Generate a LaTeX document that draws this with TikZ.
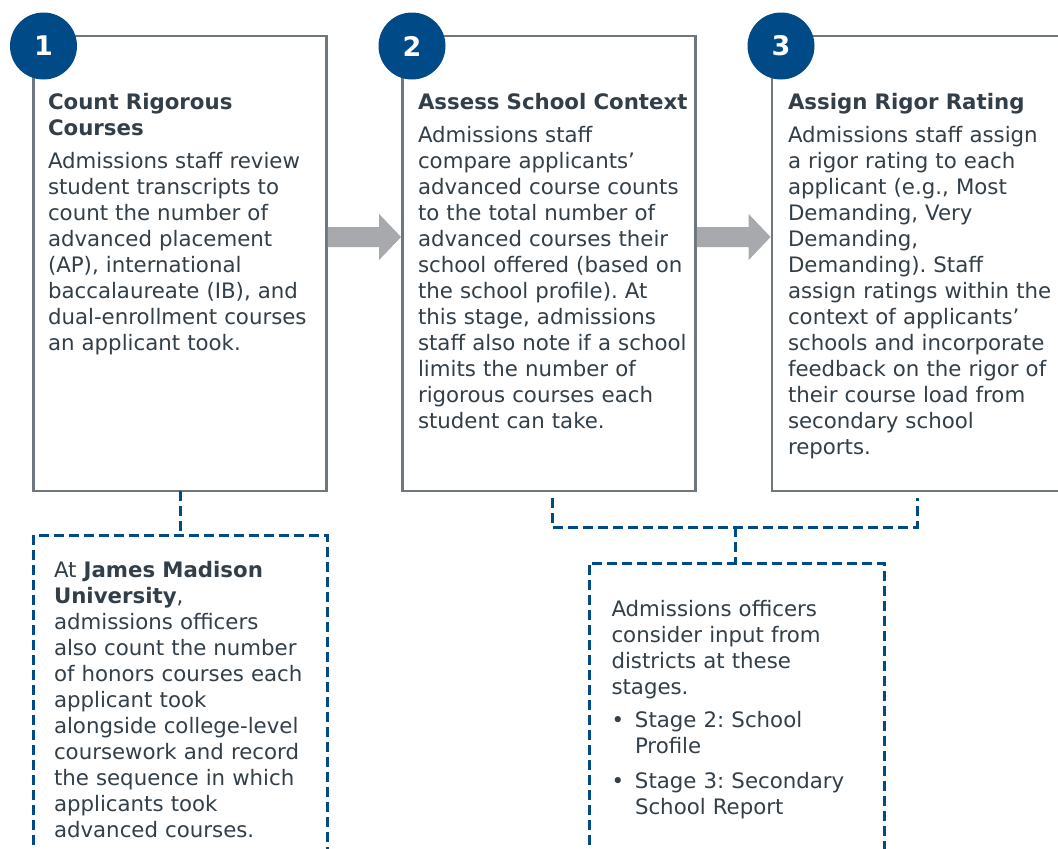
\documentclass[tikz,border=0pt]{standalone}
\usepackage{fontspec}
\setmainfont{DejaVu Sans}
\usetikzlibrary{calc}
\definecolor{txt}{HTML}{333F48}
\definecolor{framegray}{HTML}{6E7780}
\definecolor{navy}{HTML}{004B87}
\definecolor{arrowgray}{HTML}{A7A9AC}
\frenchspacing
\tikzset{
  stagebox/.style={draw=framegray, line width=2.8pt, fill=white, rectangle, inner sep=0pt, outer sep=0pt, anchor=north west},
  numcirc/.style={circle, fill=navy, minimum size=67pt, inner sep=0pt, text=white, font=\fontsize{27}{27}\selectfont\bfseries},
  titletext/.style={anchor=base west, inner sep=0pt, outer sep=0pt, text=txt, text width=285pt, align=left, font=\fontsize{21.3}{26}\selectfont\bfseries\frenchspacing},
  bodytext/.style={anchor=base west, inner sep=0pt, outer sep=0pt, text=txt, text width=290pt, align=left, font=\fontsize{21.3}{26}\selectfont\frenchspacing},
  noteline/.style={draw=navy, line width=3pt, dash pattern=on 10pt off 5pt},
  blockarrow/.style={fill=arrowgray, draw=none},
}
\newcommand{\bulletitem}[2]{\makebox[23.5pt][l]{•}#1\\\hspace*{23.5pt}#2}
\begin{document}
\begin{tikzpicture}[x=1pt,y=-1pt]
\useasboundingbox (0,0) rectangle (1058,849);
\clip (0,0) rectangle (1058,849);

% stage boxes
\node[stagebox, minimum width=293pt, minimum height=455pt] (s1) at (33.5,36) {};
\node[stagebox, minimum width=293pt, minimum height=455pt] (s2) at (402.5,36) {};
\node[stagebox, minimum width=293pt, minimum height=455pt] (s3) at (772,36) {};

% number circles
\node[numcirc] (c1) at (43.5,46) {1};
\node[numcirc] (c2) at (412,46) {2};
\node[numcirc] (c3) at (781,46) {3};

% block arrows
\coordinate (a1s) at ($(s1.north east)+(1.4,201)$);
\coordinate (a1e) at ($(s2.north west)+(-1.4,201)$);
\coordinate (a2s) at ($(s2.north east)+(1.4,201)$);
\coordinate (a2e) at ($(s3.north west)+(-1.4,201)$);
\fill[blockarrow] ($(a1s)+(0,-10)$) -- ($(a1e)+(-22,-10)$) -- ($(a1e)+(-22,-23)$) -- (a1e)
  -- ($(a1e)+(-22,23)$) -- ($(a1e)+(-22,10)$) -- ($(a1s)+(0,10)$) -- cycle;
\fill[blockarrow] ($(a2s)+(0,-10)$) -- ($(a2e)+(-22,-10)$) -- ($(a2e)+(-22,-23)$) -- (a2e)
  -- ($(a2e)+(-22,23)$) -- ($(a2e)+(-22,10)$) -- ($(a2s)+(0,10)$) -- cycle;

% titles and bodies
\node[titletext] (t1) at (48,109) {Count Rigorous\\Courses};
\node[bodytext] (b1) at (48,168) {Admissions staff review\\student transcripts to\\count the number of\\advanced placement\\(AP), international\\baccalaureate (IB), and\\dual-enrollment courses\\an applicant took.};

\node[titletext] (t2) at (418,109) {Assess School Context};
\node[bodytext] (b2) at (418,142) {Admissions staff\\compare applicants’\\advanced course counts\\to the total number of\\advanced courses their\\school offered (based on\\the school profile). At\\this stage, admissions\\staff also note if a school\\limits the number of\\rigorous courses each\\student can take.};

\node[titletext] (t3) at (788,109) {Assign Rigor Rating};
\node[bodytext] (b3) at (788,142) {Admissions staff assign\\a rigor rating to each\\applicant (e.g., Most\\Demanding, Very\\Demanding,\\Demanding). Staff\\assign ratings within the\\context of applicants’\\schools and incorporate\\feedback on the rigor of\\their course load from\\secondary school\\reports.};

% note A
\coordinate (nAtop) at (180,535);
\draw[noteline] (s1.south) -- (nAtop);
\draw[noteline] (33.5,860) -- (33.5,535) -- (327,535) -- (327,860);
\node[bodytext] (nA) at (54,577) {At \textbf{James Madison}\\\textbf{University},\\admissions officers\\also count the number\\of honors courses each\\applicant took\\alongside college-level\\coursework and record\\the sequence in which\\applicants took\\advanced courses.};

% note B with bracket
\coordinate (brL) at (552,498);
\coordinate (brR) at (917,498);
\coordinate (brM) at (735,527);
\coordinate (nBtop) at (735,563);
\draw[noteline] (brL) -- (552,527) -- (917,527) -- (brR);
\draw[noteline] (brM) -- (nBtop);
\draw[noteline] (589,860) -- (589,563) -- (884,563) -- (884,860);
\node[bodytext] (nB) at (611.5,616) {Admissions officers\\consider input from\\districts at these\\stages.\\[7pt]\bulletitem{Stage 2: School}{Profile}\\[9pt]\bulletitem{Stage 3: Secondary}{School Report}};
\end{tikzpicture}
\end{document}
